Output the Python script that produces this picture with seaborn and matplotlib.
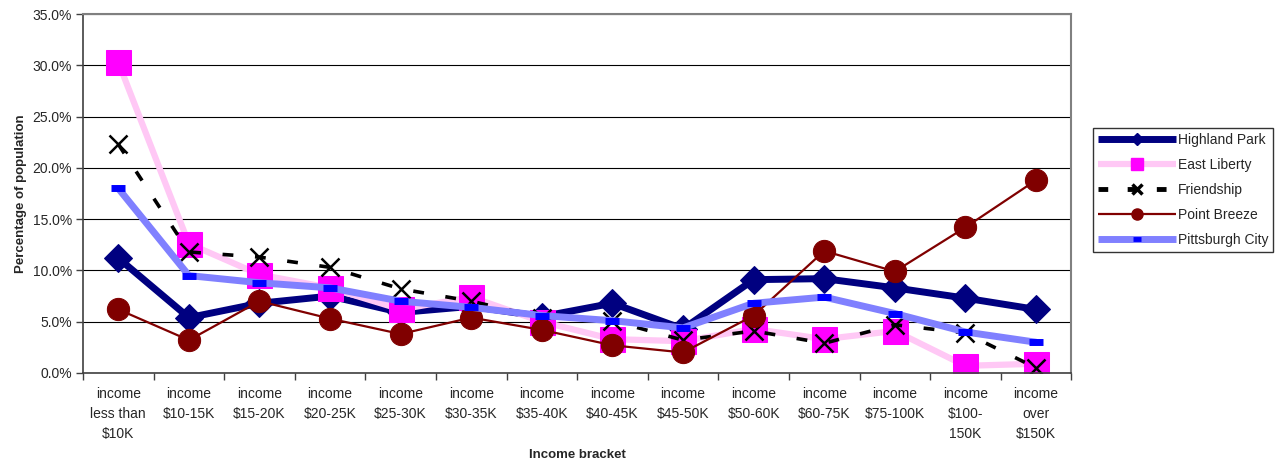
import numpy as np
import pandas as pd
import matplotlib
matplotlib.use("Agg")
import matplotlib.pyplot as plt
import seaborn as sns
from matplotlib.lines import Line2D
from matplotlib.ticker import FixedLocator, FuncFormatter

sns.set_style("white")
plt.rcParams['font.family'] = ['Liberation Sans', 'DejaVu Sans']

brackets = ["income\nless than\n$10K", "income\n$10-15K", "income\n$15-20K", "income\n$20-25K",
            "income\n$25-30K", "income\n$30-35K", "income\n$35-40K", "income\n$40-45K",
            "income\n$45-50K", "income\n$50-60K", "income\n$60-75K", "income\n$75-100K",
            "income\n$100-\n150K", "income\nover\n$150K"]

highland_park = [11.2, 5.4, 6.8, 7.5, 5.9, 6.5, 5.5, 6.8, 4.3, 9.1, 9.2, 8.3, 7.3, 6.2]
east_liberty = [30.3, 12.6, 9.6, 8.3, 6.2, 7.4, 5.0, 3.3, 3.1, 4.3, 3.3, 4.1, 0.7, 0.9]
friendship = [22.3, 11.8, 11.3, 10.3, 8.2, 7.0, 5.4, 5.1, 3.2, 4.1, 2.9, 4.7, 3.9, 0.5]
point_breeze = [6.2, 3.2, 7.0, 5.3, 3.8, 5.4, 4.2, 2.7, 2.0, 5.6, 11.9, 9.9, 14.2, 18.8]
pittsburgh = [18.0, 9.5, 8.8, 8.3, 7.0, 6.4, 5.6, 5.1, 4.4, 6.8, 7.4, 5.8, 4.0, 3.0]

series = {
    "Highland Park": highland_park,
    "East Liberty": east_liberty,
    "Friendship": friendship,
    "Point Breeze": point_breeze,
    "Pittsburgh City": pittsburgh,
}

styles = {
    "Highland Park": dict(color="#000080", lw=5, marker="D", ms=14, mfc="#000080", mec="#000080"),
    "East Liberty": dict(color="#FFC8F5", lw=4.5, marker="s", ms=18, mfc="#FF00FF", mec="#FF00FF"),
    "Friendship": dict(color="black", lw=2.6, dashes=(3, 6), marker="x", ms=13, mew=1.8, mec="black"),
    "Point Breeze": dict(color="#800000", lw=1.6, marker="o", ms=16, mfc="#800000", mec="#800000"),
    "Pittsburgh City": dict(color="#8080FF", lw=5, marker="_", ms=10, mew=5, mec="#0000FF"),
}

legend_styles = {
    "Highland Park": dict(color="#000080", lw=5, marker="D", ms=6, mfc="#000080", mec="#000080",
                          solid_capstyle="butt"),
    "East Liberty": dict(color="#FFC8F5", lw=4.5, marker="s", ms=8, mfc="#FF00FF", mec="#FF00FF",
                         solid_capstyle="butt"),
    "Friendship": dict(color="black", lw=3.5, dashes=(2, 4), marker="x", ms=7, mew=2.5, mec="black",
                       dash_capstyle="butt"),
    "Point Breeze": dict(color="#800000", lw=1.6, marker="o", ms=8, mfc="#800000", mec="#800000",
                         solid_capstyle="butt"),
    "Pittsburgh City": dict(color="#8080FF", lw=5, marker="_", ms=6, mew=3.5, mec="#0000FF",
                            solid_capstyle="butt"),
}

data = pd.DataFrame({"pos": np.arange(len(brackets))})
for name, vals in series.items():
    data[name] = vals

fig = plt.figure(figsize=(12.83, 4.68), dpi=100)
ax = fig.add_axes([0.0647, 0.203, 0.7703, 0.767])

for name in series:
    sns.lineplot(x="pos", y=name, data=data, ax=ax, **styles[name])

ax.set_xlim(-0.5, len(brackets) - 0.5)
ax.set_ylim(0, 35)
ax.yaxis.set_major_locator(FixedLocator(np.arange(0, 36, 5)))
ax.yaxis.set_major_formatter(FuncFormatter(lambda v, p: f"{v:.1f}%"))
ax.grid(axis="y", color="black", lw=0.8)
ax.set_axisbelow(True)

ax.xaxis.set_major_locator(FixedLocator(np.arange(-0.5, len(brackets), 1)))
ax.xaxis.set_major_formatter(FuncFormatter(lambda v, p: ""))
ax.set_xticks(np.arange(len(brackets)), brackets, minor=True)
ax.tick_params(axis="x", which="minor", length=0, pad=10, labelsize=10)
for lbl in ax.get_xticklabels(minor=True):
    lbl.set_linespacing(1.55)
    lbl.set_verticalalignment("top")
ax.tick_params(axis="x", which="major", direction="out", length=5, width=1, color="#404040", bottom=True)
ax.tick_params(axis="y", direction="out", length=5, width=1, color="#404040", labelsize=10, left=True, pad=3)

for side in ["left", "bottom"]:
    ax.spines[side].set_color("#404040")
    ax.spines[side].set_linewidth(1.2)
for side in ["top", "right"]:
    ax.spines[side].set_color("#808080")
    ax.spines[side].set_linewidth(1.5)

ax.set_xlabel("Income bracket", fontsize=9.5, fontweight="bold", va="center")
ax.set_ylabel("Percentage of population", fontsize=9.5, fontweight="bold", va="center")
ax.xaxis.set_label_coords(0.5, -0.228)
ax.yaxis.set_label_coords(-0.063, 0.5)

handles = [Line2D([], [], **legend_styles[name]) for name in series]
leg = fig.legend(handles, list(series.keys()), loc="upper left", bbox_to_anchor=(0.852, 0.7265),
                 frameon=True, fancybox=False, edgecolor="black", fontsize=10,
                 handlelength=5.6, handletextpad=0.15, labelspacing=0.8, borderpad=0.35,
                 borderaxespad=0)
leg.get_frame().set_linewidth(1.0)

fig.savefig("out.png", dpi=100)
